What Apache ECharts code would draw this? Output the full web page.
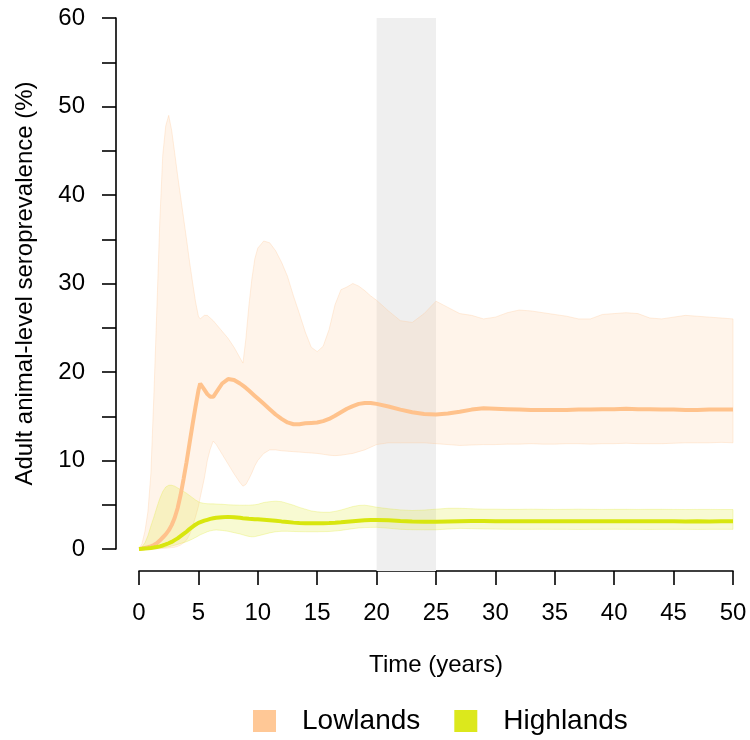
<!DOCTYPE html>
<html>
<head>
<meta charset="utf-8">
<script src="https://cdn.jsdelivr.net/npm/echarts@6/dist/echarts.min.js"></script>
<style>
html,body{margin:0;padding:0;background:#fff;}
#chart{width:750px;height:740px;}
</style>
</head>
<body>
<div id="chart"></div>
<script>
// ---- data ----
const T = [0,0.25,0.5,0.75,1,1.25,1.5,1.75,2,2.25,2.5,2.75,3,3.25,3.5,3.75,4,4.25,4.5,4.75,
  5,5.15,5.5,5.75,6,6.25,6.5,7,7.5,8,8.5,8.75,9,9.25,9.5,9.75,10,
  10.5,11,11.5,12,12.5,13,13.5,14,14.5,15,15.5,16,16.5,17,17.5,18,18.5,19,19.5,20,
  21,22,23,24,25,26,27,28,29,30,31,32,33,34,35,36,37,38,39,40,41,42,43,44,45,46,47,48,49,50];

const lowMean = [0,0.05,0.12,0.2,0.3,0.45,0.65,0.95,1.3,1.65,2.1,2.7,3.5,4.6,6.1,7.9,9.8,11.9,14.0,16.0,
  17.9,18.7,18.0,17.5,17.2,17.2,17.7,18.7,19.2,19.1,18.7,18.45,18.2,17.9,17.6,17.3,17.0,
  16.4,15.8,15.2,14.7,14.3,14.1,14.1,14.2,14.25,14.3,14.45,14.7,15.05,15.45,15.85,16.15,16.4,16.5,16.5,16.4,
  16.1,15.75,15.45,15.25,15.2,15.3,15.5,15.75,15.9,15.85,15.8,15.75,15.7,15.7,15.7,15.7,15.75,15.75,15.8,15.8,15.85,15.8,15.8,15.75,15.75,15.7,15.7,15.75,15.75,15.75];

const lowHi = [0,0.6,2.0,4.2,8.5,17.3,27.0,37.0,44.5,47.8,49.0,47.3,44.8,42.2,39.8,37.4,35.0,32.5,30.2,28.0,
  26.3,26.0,26.4,26.4,26.1,25.8,25.4,24.6,23.8,22.8,21.6,21.0,23.8,27.5,30.5,32.8,34.0,
  34.8,34.6,33.7,32.4,30.8,28.6,26.6,24.5,22.8,22.3,22.9,24.8,27.6,29.3,29.6,30.0,29.7,29.2,28.6,28.1,
  26.9,25.8,25.6,26.6,28.0,27.3,26.6,26.4,26.0,26.2,26.7,27.0,26.9,26.7,26.5,26.3,26.0,26.0,26.5,26.6,26.7,26.6,26.1,26.0,26.2,26.4,26.3,26.2,26.1,26.0];

const lowLo = [0,0,0,0,0,0,0.02,0.04,0.06,0.09,0.12,0.16,0.2,0.3,0.45,0.7,1.0,1.6,2.5,3.6,
  4.8,5.8,8.0,10.0,11.3,12.2,11.8,10.7,9.6,8.5,7.5,7.1,7.3,7.9,8.6,9.4,10.0,
  10.8,11.2,11.2,11.1,11.05,11.0,10.95,10.9,10.85,10.8,10.7,10.6,10.55,10.6,10.7,10.8,11.0,11.2,11.5,11.8,
  12.0,12.0,12.0,12.0,11.9,11.8,11.7,11.75,11.8,11.8,11.85,11.85,11.9,11.85,11.85,11.9,11.9,11.85,11.9,11.9,11.95,11.9,11.9,11.9,11.95,12.0,12.0,12.0,12.05,12.0];

const highMean = [0,0.02,0.05,0.08,0.12,0.17,0.23,0.3,0.4,0.52,0.65,0.8,1.0,1.2,1.45,1.7,1.95,2.25,2.5,2.75,
  2.95,3.05,3.2,3.3,3.4,3.47,3.53,3.6,3.63,3.6,3.52,3.48,3.45,3.42,3.4,3.37,3.35,
  3.3,3.25,3.2,3.12,3.05,2.98,2.94,2.91,2.9,2.9,2.91,2.93,2.97,3.02,3.08,3.14,3.2,3.25,3.27,3.28,
  3.25,3.17,3.11,3.08,3.08,3.11,3.14,3.15,3.15,3.14,3.13,3.13,3.14,3.13,3.13,3.13,3.14,3.13,3.13,3.14,3.13,3.13,3.13,3.14,3.13,3.12,3.13,3.12,3.13,3.13];

const highHi = [0,0.25,0.7,1.5,2.6,3.6,4.7,5.7,6.5,7.0,7.2,7.2,7.1,6.9,6.7,6.5,6.3,6.05,5.8,5.55,
  5.35,5.25,5.15,5.12,5.1,5.1,5.08,5.05,5.0,4.97,4.95,4.95,4.95,4.95,4.97,5.0,5.05,
  5.25,5.35,5.4,5.35,5.15,4.95,4.7,4.5,4.3,4.2,4.15,4.15,4.25,4.4,4.6,4.8,4.92,4.95,4.85,4.72,
  4.55,4.42,4.35,4.4,4.5,4.6,4.6,4.55,4.5,4.5,4.48,4.48,4.5,4.48,4.47,4.48,4.5,4.48,4.47,4.48,4.48,4.47,4.48,4.48,4.47,4.46,4.47,4.47,4.46,4.46];

const highLo = [0,0,0.01,0.02,0.04,0.06,0.08,0.11,0.15,0.2,0.26,0.33,0.42,0.52,0.62,0.72,0.83,0.97,1.12,1.3,
  1.48,1.6,1.8,1.95,2.05,2.12,2.15,2.1,2.0,1.85,1.7,1.6,1.5,1.42,1.38,1.4,1.48,
  1.65,1.82,1.95,2.0,2.0,1.98,1.96,1.95,1.95,1.95,1.96,1.98,2.03,2.1,2.2,2.3,2.38,2.42,2.44,2.45,
  2.35,2.22,2.18,2.17,2.17,2.25,2.33,2.3,2.27,2.25,2.23,2.22,2.22,2.23,2.22,2.22,2.21,2.22,2.22,2.23,2.22,2.22,2.21,2.22,2.22,2.22,2.21,2.22,2.22,2.22];

const greyPeriod = [20, 25];
const seriesNames = ['Lowlands', 'Highlands'];
const xTicks = [0, 50, 5];
const yTicks = [0, 60, 5];
const xTitle = 'Time (years)';
const yTitle = 'Adult animal-level seroprevalence (%)';

// ---- colours ----
const LOW = '#FFC896', LOW_LINE = '#FFC28C';
const HIGH = '#DCE81C', HIGH_LINE = '#D8E60E';

const pair = (arr) => arr.map((v, i) => [T[i], v]);

// band polygon built from the arrays through the axis scales
function bandSeries(lo, hi, fill, stroke) {
  return {
    type: 'custom', xAxisIndex: 0, yAxisIndex: 0, silent: true,
    data: [[T[0], lo[0], hi[0]]],
    renderItem: function (params, api) {
      const pts = [];
      for (let i = 0; i < T.length; i++) pts.push(api.coord([T[i], hi[i]]));
      for (let i = T.length - 1; i >= 0; i--) pts.push(api.coord([T[i], lo[i]]));
      return {type: 'polygon', shape: {points: pts},
        style: {fill: fill, stroke: stroke, lineWidth: 1}};
    }
  };
}

const FONT = "'Liberation Sans', Arial, sans-serif";
const chart = echarts.init(document.getElementById('chart'), null, {renderer: 'canvas'});

chart.setOption({
  animation: false,
  backgroundColor: '#ffffff',
  textStyle: {fontFamily: FONT},
  grid: [
    {left: 139, right: 17, top: 18, bottom: 191},
    {left: 139, right: 17, top: 18, bottom: 169}
  ],
  xAxis: [{
    type: 'value', gridIndex: 0, min: xTicks[0], max: xTicks[1], interval: xTicks[2],
    offset: 22,
    axisLine: {show: true, onZero: false, lineStyle: {color: '#000', width: 1.6}},
    axisTick: {show: true, length: 14, lineStyle: {color: '#000', width: 1.6}},
    axisLabel: {color: '#000', fontSize: 24, margin: 30, fontFamily: FONT},
    splitLine: {show: false},
    name: xTitle, nameLocation: 'middle', nameGap: 82,
    nameTextStyle: {color: '#000', fontSize: 24, fontFamily: FONT}
  }, {
    type: 'value', gridIndex: 1, min: xTicks[0], max: xTicks[1], show: false
  }],
  yAxis: [{
    type: 'value', gridIndex: 0, min: yTicks[0], max: yTicks[1], interval: yTicks[2],
    offset: 23,
    axisLine: {show: true, onZero: false, lineStyle: {color: '#000', width: 1.6}},
    axisTick: {show: true, length: 14, lineStyle: {color: '#000', width: 1.6}},
    axisLabel: {color: '#000', fontSize: 24, margin: 31, fontFamily: FONT,
      formatter: v => (v % 10 === 0 ? String(v) : '')},
    splitLine: {show: false},
    name: yTitle, nameLocation: 'middle', nameGap: 79, nameRotate: 90,
    nameTextStyle: {color: '#000', fontSize: 24, fontFamily: FONT}
  }, {
    type: 'value', gridIndex: 1, min: 0, max: 1, show: false
  }],
  legend: {
    show: true, top: 702, left: 248,
    icon: 'rect', itemWidth: 23, itemHeight: 22, itemGap: 34,
    data: seriesNames,
    textStyle: {color: '#000', fontSize: 28, fontFamily: FONT, padding: [0, 0, 0, 21]}
  },
  series: [
    {
      type: 'custom', xAxisIndex: 1, yAxisIndex: 1, silent: true,
      data: [greyPeriod],
      renderItem: function (params, api) {
        const p1 = api.coord([api.value(0), 1]);
        const p2 = api.coord([api.value(1), 0]);
        return {type: 'rect', shape: {x: p1[0], y: p1[1], width: p2[0] - p1[0], height: p2[1] - p1[1]},
          style: {fill: '#EFEFEF'}};
      }
    },
    bandSeries(lowLo, lowHi, 'rgba(255,200,150,0.2)', 'rgba(255,200,150,0.3)'),
    {
      name: seriesNames[0], type: 'line', data: pair(lowMean), symbol: 'none',
      itemStyle: {color: LOW},
      lineStyle: {color: LOW_LINE, width: 4}
    },
    bandSeries(highLo, highHi, 'rgba(220,232,28,0.2)', 'rgba(220,232,28,0.25)'),
    {
      name: seriesNames[1], type: 'line', data: pair(highMean), symbol: 'none',
      itemStyle: {color: HIGH},
      lineStyle: {color: HIGH_LINE, width: 4}
    }
  ]
});
</script>
</body>
</html>
